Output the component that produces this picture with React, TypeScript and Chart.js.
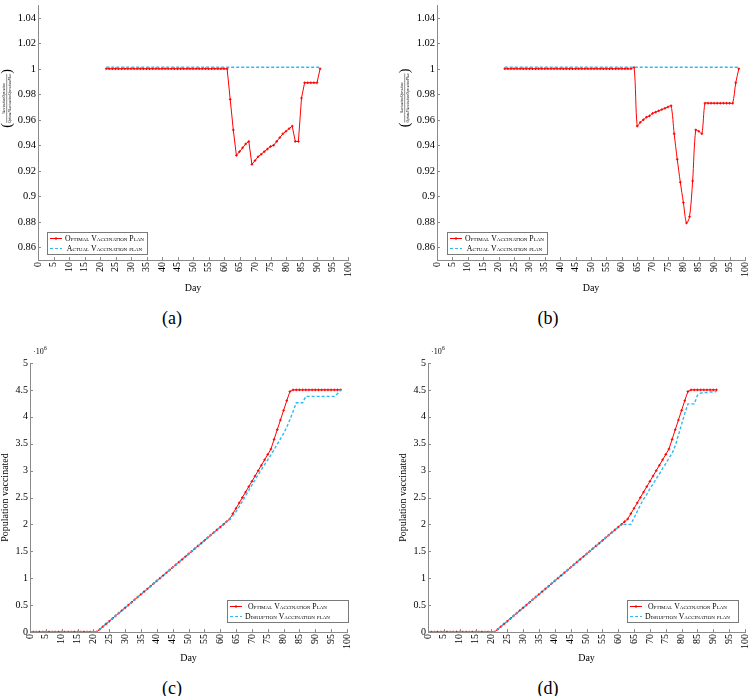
import React, { useEffect, useRef } from "react";
import { Chart, registerables } from "chart.js";

Chart.register(...registerables);

const SERIF = "'Liberation Serif', 'DejaVu Serif', serif";
const RED = "#ff0000";
const BLUE = "#2fbaf5";
const AXIS = "#8a8a8a";

// ---------- tick labels ----------
const dayTicks = [0, 5, 10, 15, 20, 25, 30, 35, 40, 45, 50, 55, 60, 65, 70, 75, 80, 85, 90, 95, 100];
const ratioTicks = [0.86, 0.88, 0.9, 0.92, 0.94, 0.96, 0.98, 1, 1.02, 1.04];
const popTicks = [0, 0.5, 1, 1.5, 2, 2.5, 3, 3.5, 4, 4.5, 5];

const labelOptimal = "Optimal Vaccination Plan";
const labelActual = "Actual Vaccination plan";
const labelDisruption = "Disruption Vaccination plan";

// ---------- panel (a) ----------
const daysA = [22, 23, 24, 25, 26, 27, 28, 29, 30, 31, 32, 33, 34, 35, 36, 37, 38, 39, 40, 41, 42, 43, 44, 45, 46, 47, 48, 49, 50, 51, 52, 53, 54, 55, 56, 57, 58, 59, 60, 61, 62, 63, 64, 65, 66, 67, 68, 69, 70, 71, 72, 73, 74, 75, 76, 77, 78, 79, 80, 81, 82, 83, 84, 85, 86, 87, 88, 89, 90, 91];
const optimalA = [1, 1, 1, 1, 1, 1, 1, 1, 1, 1, 1, 1, 1, 1, 1, 1, 1, 1, 1, 1, 1, 1, 1, 1, 1, 1, 1, 1, 1, 1, 1, 1, 1, 1, 1, 1, 1, 1, 1, 1,
  0.976, 0.952, 0.932, 0.935, 0.938, 0.941, 0.943, 0.925, 0.928, 0.931,
  0.933, 0.935, 0.937, 0.939, 0.94, 0.943, 0.946, 0.949, 0.951, 0.953,
  0.955, 0.943, 0.943, 0.977, 0.989, 0.989, 0.989, 0.989, 0.989, 1.0];
const actualDaysA = [22, 91];
const actualA = [1.0012, 1.0012];

// ---------- panel (b) ----------
const daysB = [22, 23, 24, 25, 26, 27, 28, 29, 30, 31, 32, 33, 34, 35, 36, 37, 38, 39, 40, 41, 42, 43, 44, 45, 46, 47, 48, 49, 50, 51, 52, 53, 54, 55, 56, 57, 58, 59, 60, 61, 62, 63, 64, 65, 66, 67, 68, 69, 70, 71, 72, 73, 74, 75, 76, 77, 78, 79, 80, 81, 82, 83, 84, 85, 86, 87, 88, 89, 90, 91, 92, 93, 94, 95, 96, 97, 98];
const optimalB = [1, 1, 1, 1, 1, 1, 1, 1, 1, 1, 1, 1, 1, 1, 1, 1, 1, 1, 1, 1, 1, 1, 1, 1, 1, 1, 1, 1, 1, 1, 1, 1, 1, 1, 1, 1, 1, 1, 1, 1, 1, 1,
  1.001, 0.955, 0.958, 0.96, 0.962, 0.963, 0.965, 0.966, 0.967, 0.968,
  0.969, 0.97, 0.971, 0.949, 0.929, 0.911, 0.895, 0.879, 0.884, 0.912,
  0.952, 0.951, 0.949, 0.973, 0.973, 0.973, 0.973, 0.973, 0.973, 0.973,
  0.973, 0.973, 0.973, 0.989, 1.0];
const actualDaysB = [22, 98];
const actualB = [1.0012, 1.0012];

// ---------- panel (c) ----------
const daysC = [0, 1, 2, 3, 4, 5, 6, 7, 8, 9, 10, 11, 12, 13, 14, 15, 16, 17, 18, 19, 20, 21, 22, 23, 24, 25, 26, 27, 28, 29, 30, 31, 32, 33, 34, 35, 36, 37, 38, 39, 40, 41, 42, 43, 44, 45, 46, 47, 48, 49, 50, 51, 52, 53, 54, 55, 56, 57, 58, 59, 60, 61, 62, 63, 64, 65, 66, 67, 68, 69, 70, 71, 72, 73, 74, 75, 76, 77, 78, 79, 80, 81, 82, 83, 84, 85, 86, 87, 88, 89, 90, 91, 92, 93, 94, 95, 96, 97, 98];
const optimalC = [0, 0, 0, 0, 0, 0, 0, 0, 0, 0, 0, 0, 0, 0, 0, 0, 0, 0, 0, 0, 0, 0,
  0.05, 0.1, 0.15, 0.2, 0.25, 0.3, 0.35, 0.4, 0.45, 0.5, 0.55, 0.6, 0.65, 0.7, 0.75, 0.8, 0.85, 0.9, 0.95, 1.0, 1.05,
  1.1, 1.15, 1.2, 1.25, 1.3, 1.35, 1.4, 1.45, 1.5, 1.55, 1.6, 1.65, 1.7, 1.75, 1.8, 1.85, 1.9, 1.95, 2.0, 2.05, 2.1,
  2.2, 2.3, 2.4, 2.5, 2.6, 2.7, 2.8, 2.9, 3.0, 3.1, 3.2, 3.3, 3.4,
  3.58, 3.76, 3.94, 4.12, 4.3, 4.47,
  4.5, 4.5, 4.5, 4.5, 4.5, 4.5, 4.5, 4.5, 4.5, 4.5, 4.5, 4.5, 4.5, 4.5, 4.5, 4.5];
const disruptionC = [0, 0, 0, 0, 0, 0, 0, 0, 0, 0, 0, 0, 0, 0, 0, 0, 0, 0, 0, 0, 0, 0,
  0.05, 0.1, 0.15, 0.2, 0.25, 0.3, 0.35, 0.4, 0.45, 0.5, 0.55, 0.6, 0.65, 0.7, 0.75, 0.8, 0.85, 0.9, 0.95, 1.0, 1.05,
  1.1, 1.15, 1.2, 1.25, 1.3, 1.35, 1.4, 1.45, 1.5, 1.55, 1.6, 1.65, 1.7, 1.75, 1.8, 1.85, 1.9, 1.95, 2.0, 2.05, 2.1,
  2.16, 2.24, 2.33, 2.43, 2.53, 2.63, 2.73, 2.83, 2.93, 3.02, 3.11, 3.2, 3.29, 3.39, 3.49, 3.59, 3.69, 3.81, 3.95, 4.1,
  4.26, 4.26, 4.26,
  4.38, 4.38, 4.38, 4.38, 4.38, 4.38, 4.38, 4.38, 4.38, 4.38,
  4.43, 4.5];

// ---------- panel (d) ----------
const daysD = [0, 1, 2, 3, 4, 5, 6, 7, 8, 9, 10, 11, 12, 13, 14, 15, 16, 17, 18, 19, 20, 21, 22, 23, 24, 25, 26, 27, 28, 29, 30, 31, 32, 33, 34, 35, 36, 37, 38, 39, 40, 41, 42, 43, 44, 45, 46, 47, 48, 49, 50, 51, 52, 53, 54, 55, 56, 57, 58, 59, 60, 61, 62, 63, 64, 65, 66, 67, 68, 69, 70, 71, 72, 73, 74, 75, 76, 77, 78, 79, 80, 81, 82, 83, 84, 85, 86, 87, 88, 89, 90, 91];
const optimalD = [0, 0, 0, 0, 0, 0, 0, 0, 0, 0, 0, 0, 0, 0, 0, 0, 0, 0, 0, 0, 0, 0,
  0.05, 0.1, 0.15, 0.2, 0.25, 0.3, 0.35, 0.4, 0.45, 0.5, 0.55, 0.6, 0.65, 0.7, 0.75, 0.8, 0.85, 0.9, 0.95, 1.0, 1.05,
  1.1, 1.15, 1.2, 1.25, 1.3, 1.35, 1.4, 1.45, 1.5, 1.55, 1.6, 1.65, 1.7, 1.75, 1.8, 1.85, 1.9, 1.95, 2.0, 2.05, 2.1,
  2.2, 2.3, 2.4, 2.5, 2.6, 2.7, 2.8, 2.9, 3.0, 3.1, 3.2, 3.3, 3.4,
  3.58, 3.76, 3.94, 4.12, 4.3, 4.47,
  4.5, 4.5, 4.5, 4.5, 4.5, 4.5, 4.5, 4.5, 4.5];
const disruptionD = [0, 0, 0, 0, 0, 0, 0, 0, 0, 0, 0, 0, 0, 0, 0, 0, 0, 0, 0, 0, 0, 0,
  0.05, 0.1, 0.15, 0.2, 0.25, 0.3, 0.35, 0.4, 0.45, 0.5, 0.55, 0.6, 0.65, 0.7, 0.75, 0.8, 0.85, 0.9, 0.95, 1.0, 1.05,
  1.1, 1.15, 1.2, 1.25, 1.3, 1.35, 1.4, 1.45, 1.5, 1.55, 1.6, 1.65, 1.7, 1.75, 1.8, 1.85, 1.9, 1.95, 2.0,
  2.0, 2.0, 2.0, 2.12, 2.24, 2.36, 2.47, 2.56, 2.66, 2.75, 2.85, 2.94, 3.04, 3.13, 3.23, 3.32,
  3.46, 3.66, 3.86, 4.06, 4.24, 4.24, 4.24, 4.4, 4.44, 4.45, 4.45, 4.46, 4.46, 4.47];

type Series = { days: number[]; values: number[]; optimal: boolean; label: string };
type Box = { x: number; y: number; w: number; h: number };
type PanelSpec = {
  left: number; top: number; width: number; height: number;
  pad: { left: number; right: number; top: number; bottom: number };
  yWidth: number; xHeight: number;
  yMin: number; yMax: number; yTicks: number[];
  yTickSize: number; xTickSize: number;
  series: Series[];
  tension: number;
  yTitle?: string;
  fraction?: { x: number; y: number };
  multiplier?: boolean;
  legend: Box;
  dayPad: number;
};

function drawCross(ctx: CanvasRenderingContext2D, x: number, y: number, r: number) {
  ctx.beginPath();
  ctx.moveTo(x - r, y); ctx.lineTo(x + r, y);
  ctx.moveTo(x, y - r); ctx.lineTo(x, y + r);
  ctx.stroke();
}

function makeExtras(spec: PanelSpec) {
  return {
    id: "extras",
    afterDraw(chart: any) {
      const ctx: CanvasRenderingContext2D = chart.ctx;
      const ca = chart.chartArea;
      const xs = chart.scales.x;
      const ys = chart.scales.y;
      ctx.save();
      // inward tick marks
      ctx.strokeStyle = AXIS;
      ctx.lineWidth = 1;
      ctx.beginPath();
      for (const t of xs.ticks) {
        const px = Math.round(xs.getPixelForValue(t.value)) + 0.5;
        ctx.moveTo(px, ca.bottom); ctx.lineTo(px, ca.bottom - 3);
      }
      for (const t of ys.ticks) {
        const py = Math.round(ys.getPixelForValue(t.value)) + 0.5;
        ctx.moveTo(ca.left, py); ctx.lineTo(ca.left + 3, py);
      }
      ctx.stroke();

      // fraction axis label
      if (spec.fraction) {
        ctx.save();
        ctx.translate(spec.fraction.x, spec.fraction.y);
        ctx.rotate(-Math.PI / 2);
        ctx.fillStyle = "#000";
        ctx.textAlign = "center";
        ctx.textBaseline = "middle";
        ctx.font = `italic 3.5px ${SERIF}`;
        ctx.fillText("VaccinationOperation", 0, -2.8);
        ctx.fillText("OptimalVaccinationOperationPlan", 0, 3.1);
        const w = ctx.measureText("OptimalVaccinationOperationPlan").width;
        ctx.strokeStyle = "#000";
        ctx.lineWidth = 0.45;
        ctx.beginPath();
        ctx.moveTo(-w / 2, 0.2); ctx.lineTo(w / 2, 0.2);
        ctx.stroke();
        ctx.font = `14px ${SERIF}`;
        ctx.fillText("(", -w / 2 - 2.5, 0.5);
        ctx.fillText(")", w / 2 + 2.5, 0.5);
        ctx.restore();
      }

      // ·10^6 multiplier
      if (spec.multiplier) {
        ctx.fillStyle = "#000";
        ctx.textAlign = "left";
        ctx.textBaseline = "alphabetic";
        ctx.font = `8px ${SERIF}`;
        const base = "\u00b710";
        ctx.fillText(base, ca.left + 3, ca.top - 9.5);
        const bw = ctx.measureText(base).width;
        ctx.font = `5.5px ${SERIF}`;
        ctx.fillText("6", ca.left + 3 + bw + 0.3, ca.top - 13);
      }

      // legend
      const b = spec.legend;
      ctx.fillStyle = "#fff";
      ctx.fillRect(b.x, b.y, b.w, b.h);
      ctx.strokeStyle = "#7a7a7a";
      ctx.lineWidth = 1;
      ctx.strokeRect(Math.round(b.x) + 0.5, Math.round(b.y) + 0.5, b.w, b.h);
      ctx.font = `small-caps 7.8px ${SERIF}`;
      (ctx as any).fontVariantCaps = "small-caps";
      const widths = spec.series.map((s) => ctx.measureText(s.label).width);
      const colW = Math.max(...widths);
      const sx0 = b.x + 3;
      const sx1 = b.x + 15;
      const tc = sx1 + 3 + colW / 2;
      spec.series.forEach((s, i) => {
        const y = Math.round(b.y + 6 + i * 10) + 0.5;
        ctx.strokeStyle = s.optimal ? RED : BLUE;
        ctx.lineWidth = 1;
        ctx.setLineDash(s.optimal ? [] : [3, 2]);
        ctx.beginPath();
        ctx.moveTo(sx0, y); ctx.lineTo(sx1, y);
        ctx.stroke();
        ctx.setLineDash([]);
        if (s.optimal) drawCross(ctx, (sx0 + sx1) / 2, y, 1.5);
        ctx.fillStyle = "#000";
        ctx.textAlign = "center";
        ctx.textBaseline = "middle";
        ctx.fillText(s.label, tc, y + 0.5);
      });
      ctx.restore();
    },
  };
}

function buildConfig(spec: PanelSpec): any {
  const datasets = spec.series.map((s) => ({
    label: s.label,
    data: s.days.map((d, i) => ({ x: d, y: s.values[i] })),
    borderColor: s.optimal ? RED : BLUE,
    backgroundColor: s.optimal ? RED : BLUE,
    borderWidth: s.optimal ? 1 : 1.4,
    borderDash: s.optimal ? [] : [3, 2],
    pointStyle: "cross",
    pointRadius: s.optimal ? 1.3 : 0,
    pointBorderWidth: 1,
    pointBorderColor: RED,
    tension: s.optimal ? spec.tension : 0,
    order: s.optimal ? 1 : 0,
  }));
  const tickFont = (size: number) => ({ family: SERIF, size });
  return {
    type: "line",
    data: { datasets },
    options: {
      animation: false,
      responsive: false,
      devicePixelRatio: 1,
      events: [],
      layout: { padding: spec.pad },
      plugins: { legend: { display: false }, tooltip: { enabled: false }, title: { display: false } },
      scales: {
        x: {
          type: "linear",
          min: 0,
          max: 100,
          afterBuildTicks: (s: any) => { s.ticks = dayTicks.map((v) => ({ value: v })); },
          afterFit: (s: any) => { s.height = spec.xHeight; s.paddingLeft = 0; s.paddingRight = 0; },
          ticks: {
            autoSkip: false, minRotation: 90, maxRotation: 90, padding: 2, color: "#000",
            font: tickFont(spec.xTickSize), callback: (v: any) => String(v),
          },
          grid: { display: true, drawOnChartArea: false, drawTicks: false, color: AXIS },
          border: { display: true, color: AXIS, width: 1 },
          title: {
            display: true, text: "Day", color: "#000",
            font: { family: SERIF, size: 10 }, padding: { top: 0, bottom: spec.dayPad },
          },
        },
        y: {
          type: "linear",
          min: spec.yMin,
          max: spec.yMax,
          afterBuildTicks: (s: any) => { s.ticks = spec.yTicks.map((v) => ({ value: v })); },
          afterFit: (s: any) => { s.width = spec.yWidth; s.paddingTop = 0; s.paddingBottom = 0; },
          ticks: { padding: 2, color: "#000", font: tickFont(spec.yTickSize), callback: (v: any) => String(v) },
          grid: { display: true, drawOnChartArea: false, drawTicks: false, color: AXIS },
          border: { display: true, color: AXIS, width: 1 },
          title: spec.yTitle
            ? {
                display: true, text: spec.yTitle, color: "#000",
                font: { family: SERIF, size: 10, lineHeight: 1 }, padding: { top: 0, bottom: 0 },
              }
            : { display: false },
        },
      },
    },
    plugins: [makeExtras(spec)],
  };
}

const panels: PanelSpec[] = [
  {
    left: 0, top: 0, width: 375, height: 300,
    pad: { left: 0, right: 27, top: 0, bottom: 0 },
    yWidth: 38, xHeight: 40, yMin: 0.85, yMax: 1.05, yTicks: ratioTicks,
    yTickSize: 10.5, xTickSize: 10,
    series: [
      { days: daysA, values: optimalA, optimal: true, label: labelOptimal },
      { days: actualDaysA, values: actualA, optimal: false, label: labelActual },
    ],
    tension: 0, fraction: { x: 6.5, y: 98.5 },
    legend: { x: 47, y: 232, w: 100, h: 22 }, dayPad: 6,
  },
  {
    left: 375, top: 0, width: 375, height: 300,
    pad: { left: 0, right: 5, top: 0, bottom: 0 },
    yWidth: 62, xHeight: 40, yMin: 0.85, yMax: 1.05, yTicks: ratioTicks,
    yTickSize: 10.5, xTickSize: 10,
    series: [
      { days: daysB, values: optimalB, optimal: true, label: labelOptimal },
      { days: actualDaysB, values: actualB, optimal: false, label: labelActual },
    ],
    tension: 0.3, fraction: { x: 29.5, y: 98 },
    legend: { x: 72, y: 232, w: 100, h: 22 }, dayPad: 6,
  },
  {
    left: 0, top: 340, width: 375, height: 326,
    pad: { left: 0, right: 28, top: 23, bottom: 0 },
    yWidth: 30, xHeight: 34, yMin: 0, yMax: 5, yTicks: popTicks,
    yTickSize: 10, xTickSize: 10,
    series: [
      { days: daysC, values: optimalC, optimal: true, label: labelOptimal },
      { days: daysC, values: disruptionC, optimal: false, label: labelDisruption },
    ],
    tension: 0, yTitle: "Population vaccinated", multiplier: true,
    legend: { x: 227, y: 260, w: 121, h: 22 }, dayPad: 2,
  },
  {
    left: 375, top: 340, width: 375, height: 326,
    pad: { left: 23, right: 4, top: 23, bottom: 0 },
    yWidth: 30, xHeight: 34, yMin: 0, yMax: 5, yTicks: popTicks,
    yTickSize: 10, xTickSize: 10,
    series: [
      { days: daysD, values: optimalD, optimal: true, label: labelOptimal },
      { days: daysD, values: disruptionD, optimal: false, label: labelDisruption },
    ],
    tension: 0, yTitle: "Population vaccinated", multiplier: true,
    legend: { x: 252, y: 260, w: 111, h: 22 }, dayPad: 2,
  },
];

const captions = [
  { text: "(a)", x: 172, y: 318 },
  { text: "(b)", x: 548, y: 318 },
  { text: "(c)", x: 172, y: 688 },
  { text: "(d)", x: 548, y: 688 },
];

function Panel({ spec }: { spec: PanelSpec }) {
  const ref = useRef<HTMLCanvasElement>(null);
  useEffect(() => {
    const chart = new Chart(ref.current as HTMLCanvasElement, buildConfig(spec));
    let alive = true;
    const fonts = (document as any).fonts;
    if (fonts && fonts.load) {
      Promise.all([
        fonts.load(`10px 'Liberation Serif'`),
        fonts.load(`italic 10px 'Liberation Serif'`),
      ]).then(() => { if (alive) chart.update(); }).catch(() => {});
    }
    return () => { alive = false; chart.destroy(); };
  }, [spec]);
  return (
    <canvas
      ref={ref}
      width={spec.width}
      height={spec.height}
      style={{ position: "absolute", left: spec.left, top: spec.top, width: spec.width, height: spec.height }}
    />
  );
}

export default function App() {
  return (
    <div style={{ position: "fixed", left: 0, top: 0, width: 750, height: 696, background: "#fff", overflow: "hidden" }}>
      {panels.map((p, i) => (
        <Panel key={i} spec={p} />
      ))}
      {captions.map((c) => (
        <div
          key={c.text}
          style={{
            position: "absolute", left: c.x, top: c.y, transform: "translate(-50%, -50%)",
            fontFamily: SERIF, fontSize: 18, lineHeight: 1, color: "#000", whiteSpace: "nowrap",
          }}
        >
          {c.text}
        </div>
      ))}
    </div>
  );
}
